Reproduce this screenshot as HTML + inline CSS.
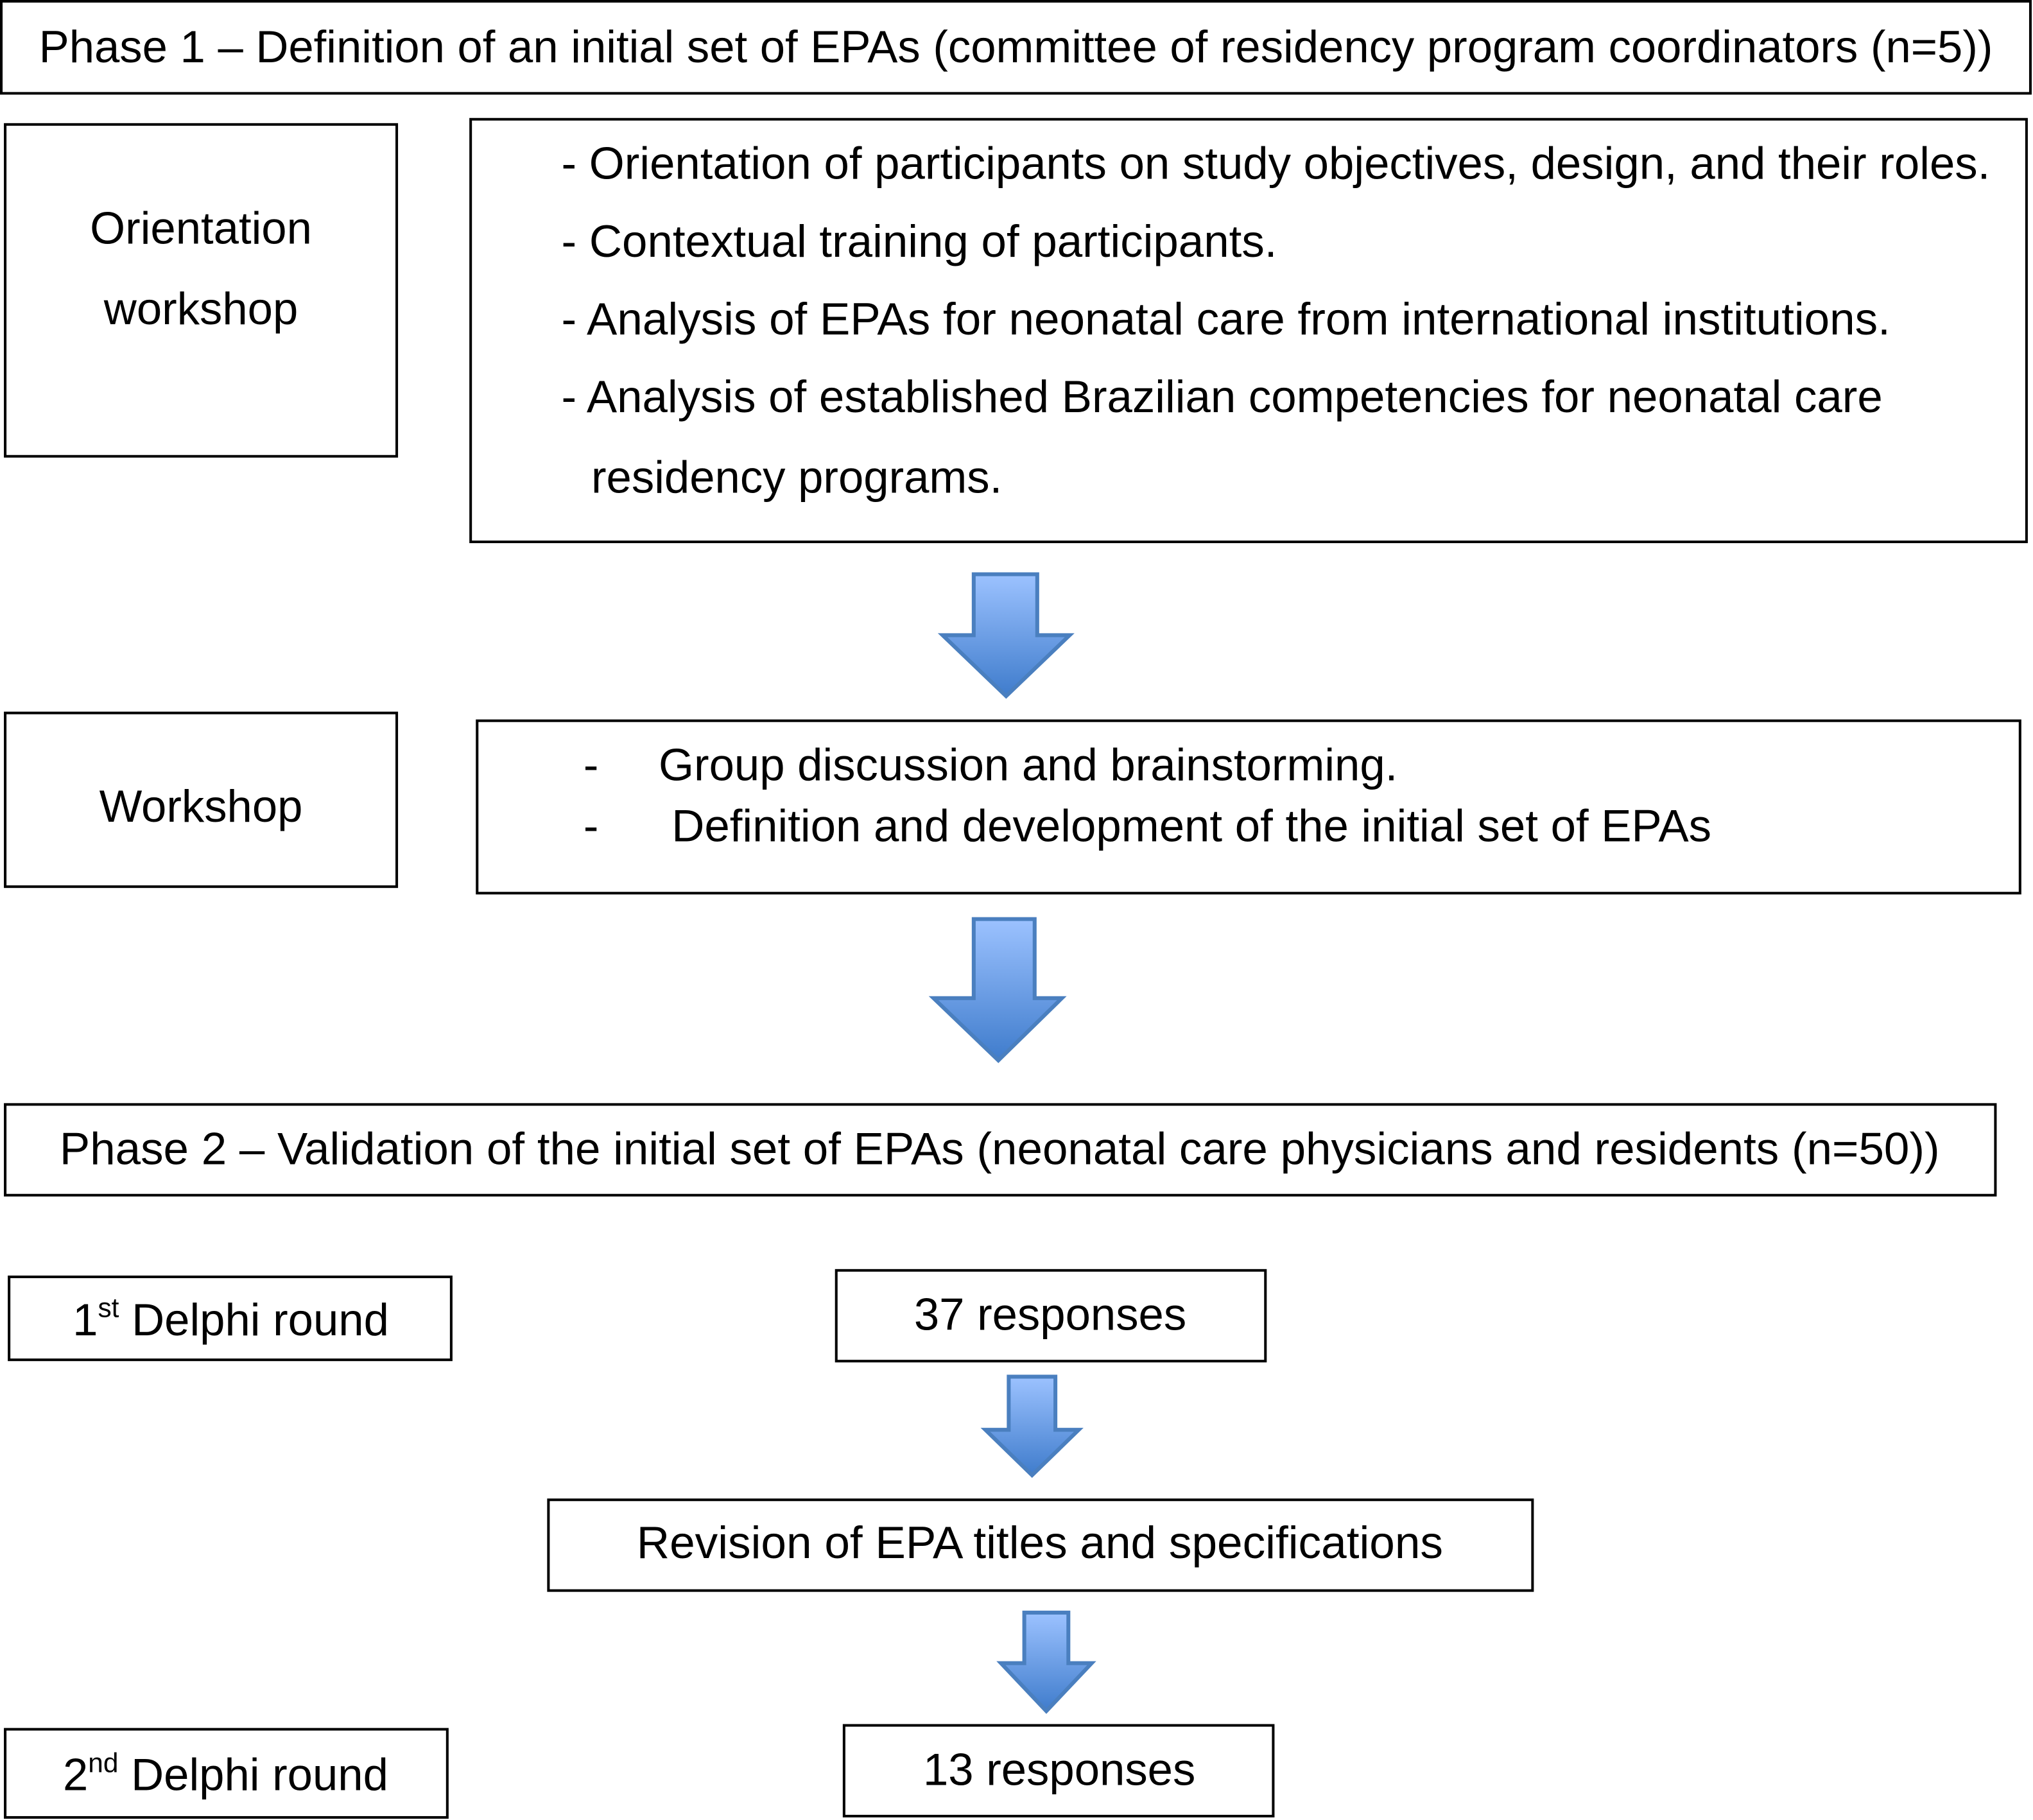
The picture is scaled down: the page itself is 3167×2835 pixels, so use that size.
<!DOCTYPE html>
<html><head><meta charset="utf-8"><style>html,body{margin:0;padding:0;background:#fff}svg{display:block}</style></head>
<body>
<svg width="3167" height="2835" viewBox="0 0 1568 1404" preserveAspectRatio="none" xmlns="http://www.w3.org/2000/svg">
<defs>
<linearGradient id="g" x1="0" y1="0" x2="0" y2="1"><stop offset="0" stop-color="#9cc2ff"/><stop offset="1" stop-color="#3f7ccc"/></linearGradient>
</defs>
<g fill="#fff" stroke="#000" stroke-width="2">
<rect x="1" y="1" width="1565" height="71"/>
<rect x="4" y="96" width="302" height="256"/>
<rect x="363" y="92" width="1200" height="326"/>
<rect x="4" y="550" width="302" height="134"/>
<rect x="368" y="556" width="1190" height="133"/>
<rect x="4" y="852" width="1535" height="70"/>
<rect x="7" y="985" width="341" height="64"/>
<rect x="645" y="980" width="331" height="70"/>
<rect x="423" y="1157" width="759" height="70"/>
<rect x="4" y="1334" width="341" height="68"/>
<rect x="651" y="1331" width="331" height="70"/>
</g>
<g fill="url(#g)" stroke="#4a7fbf" stroke-width="3" stroke-linejoin="miter">
<polygon points="751,443 800,443 800,490 825,490 776,537 727,490 751,490"/>
<polygon points="751,709 798,709 798,770 819,770 770,818 720,770 751,770"/>
<polygon points="778,1062 814,1062 814,1103 832,1103 796,1138 760,1103 778,1103"/>
<polygon points="790,1244 824,1244 824,1283 842,1283 807,1320 772,1283 790,1283"/>
</g>
<g font-family="Liberation Sans, Arial, sans-serif" font-size="35" fill="#000">
<text x="30" y="48" textLength="1507" lengthAdjust="spacingAndGlyphs">Phase 1 – Definition of an initial set of EPAs (committee of residency program coordinators (n=5))</text>
<text x="155" y="188" text-anchor="middle">Orientation</text>
<text x="155" y="250" text-anchor="middle">workshop</text>
<text x="433" y="138" textLength="1102" lengthAdjust="spacingAndGlyphs">- Orientation of participants on study objectives, design, and their roles.</text>
<text x="433" y="198" textLength="552" lengthAdjust="spacingAndGlyphs">- Contextual training of participants.</text>
<text x="433" y="258" textLength="1025" lengthAdjust="spacingAndGlyphs">- Analysis of EPAs for neonatal care from international institutions.</text>
<text x="433" y="318" textLength="1019" lengthAdjust="spacingAndGlyphs">- Analysis of established Brazilian competencies for neonatal care</text>
<text x="456" y="380" textLength="317" lengthAdjust="spacingAndGlyphs">residency programs.</text>
<text x="155" y="634" text-anchor="middle">Workshop</text>
<text x="450" y="602">-</text>
<text x="508" y="602" textLength="570" lengthAdjust="spacingAndGlyphs">Group discussion and brainstorming.</text>
<text x="450" y="649">-</text>
<text x="518" y="649" textLength="802" lengthAdjust="spacingAndGlyphs">Definition and development of the initial set of EPAs</text>
<text x="46" y="898" textLength="1450" lengthAdjust="spacingAndGlyphs">Phase 2 – Validation of the initial set of EPAs (neonatal care physicians and residents (n=50))</text>
<text x="178" y="1030" text-anchor="middle">1<tspan font-size="21" dy="-14">st</tspan><tspan dy="14"> Delphi round</tspan></text>
<text x="810" y="1026" text-anchor="middle">37 responses</text>
<text x="802" y="1202" text-anchor="middle" textLength="622" lengthAdjust="spacingAndGlyphs">Revision of EPA titles and specifications</text>
<text x="174" y="1381" text-anchor="middle">2<tspan font-size="21" dy="-14">nd</tspan><tspan dy="14"> Delphi round</tspan></text>
<text x="817" y="1377" text-anchor="middle">13 responses</text>
</g>
</svg>
</body></html>
